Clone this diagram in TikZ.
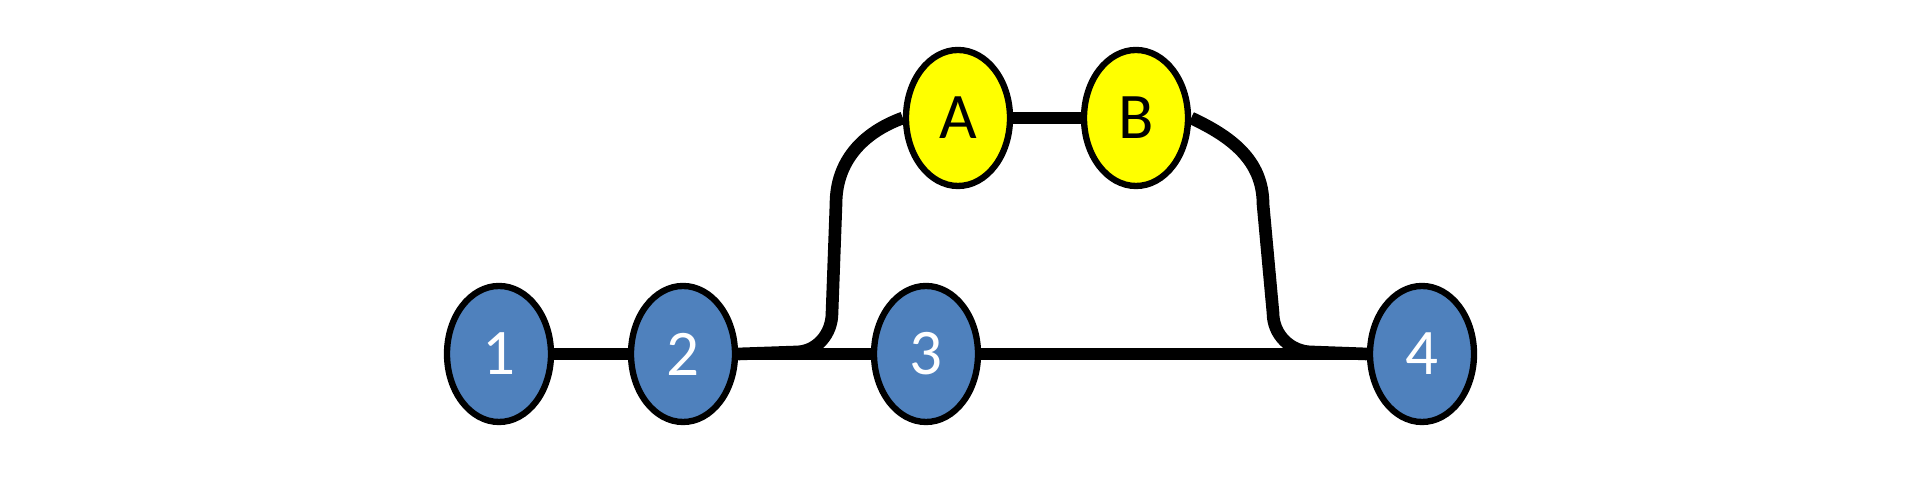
\documentclass[tikz,border=0pt]{standalone}
\usepackage{fontspec}
\setmainfont{Carlito}
\usepackage{tikz}
\usetikzlibrary{positioning}
\usetikzlibrary{shapes}
\definecolor{nodeblue}{RGB}{79,129,189}
\definecolor{nodeyellow}{RGB}{255,255,0}

\begin{document}
\begin{tikzpicture}[link/.style={draw=black,line width=3.6pt}]
	\useasboundingbox (0,0) rectangle (19.2,4.89);
	\begin{scope}[every node/.style={ellipse,draw=black,line width=1.8pt,fill=nodeblue,text=white,
	              minimum width=1.04cm,minimum height=1.36cm,inner sep=0pt,font=\fontsize{18.5}{20}\selectfont}]
	    \node (n1) at (4.99,1.35) {1};
	    \node (n2) at (6.83,1.35) {2};
	    \node (n3) at (9.26,1.35) {3};
	    \node (n4) at (14.22,1.35) {4};
	    \node (A) [fill=nodeyellow,text=black] at (9.58,3.71) {A};
	    \node (B) [fill=nodeyellow,text=black] at (11.36,3.71) {B};
	\end{scope}

	\draw [link] (n1) -- (n2);
	\draw [link] (n2) -- (n3);
	\draw [link] (n3) -- (n4);
	\draw [link] (A) -- (B);

	% branch over A and B
	\draw [link] (n2.east) -- (7.96,1.37) to[out=0,in=-90] (8.32,1.76)
	    -- (8.36,2.85) to[out=90,in=200] (A.west);
	\draw [link] (B.east) to[out=-25,in=90] (12.63,2.85)
	    -- (12.73,1.76) to[out=-90,in=180] (13.12,1.37) -- (n4.west);
\end{tikzpicture}
\end{document}
